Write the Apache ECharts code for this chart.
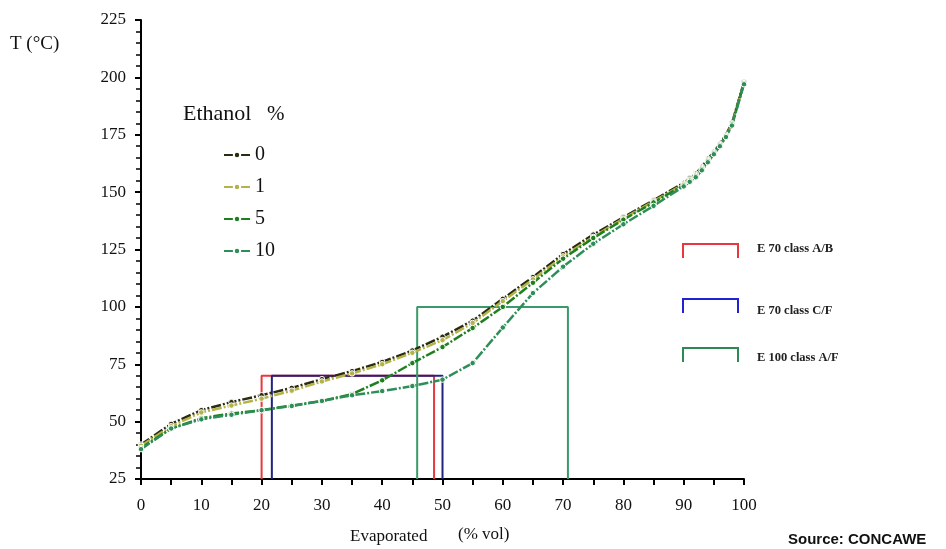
<!DOCTYPE html>
<html><head><meta charset="utf-8">
<script src="https://cdn.jsdelivr.net/npm/echarts@6/dist/echarts.min.js"></script>
<style>html,body{margin:0;padding:0;background:#fff}#c{width:946px;height:549px}</style>
</head><body><div id="c"></div>
<script>
const evaporated = [0,5,10,15,20,25,30,35,40,45,50,55,60,65,70,75,80,85,90,91,92,93,94,95,96,97,98,100];
const seriesNames = ['0','1','5','10'];
const tE0  = [40,49,55,58.5,61.5,64.7,68.5,72,76,81,87,94,103.5,113,123,131.5,139,146.5,154,156,158,161,164.5,167.5,171,175,180,198];
const tE1  = [39.5,48,54,57,60,63.5,67.5,71,75,80,85.5,93,102.5,112,122,130.5,138.5,146,153.5,155.5,157.5,160.5,164,167,170.5,174.5,179.5,197.5];
const tE5  = [38.5,47,51.5,53.5,55,57,59,62,68,75.5,82.5,90.8,100,110.5,121,130,138,145.5,153,155,157,160,163.5,167,170.5,174.5,179.5,197.5];
const tE10 = [38,47,51,53,55,56.8,59,61.5,63.3,65.5,68.3,75.5,91,106,117.5,127.5,136,144,152.5,154.5,156.5,159.5,163,166.5,170,174,179,197];
const specNames = ['E 70 class A/B','E 70 class C/F','E 100 class A/F'];
const specFrom = [20, 21.7, 45.8];
const specTo = [48.6, 50, 70.8];
const specTemp = [70, 70, 100];
const yTicks = [25,50,75,100,125,150,175,200,225];
const xTicks = [0,10,20,30,40,50,60,70,80,90,100];

const serif = '"Liberation Serif", "DejaVu Serif", serif';
const seriesColors = ['#2b2b12','#b3b34a','#1f7f1f','#2e8e58'];
const specColors = ['#e8383d','#22227f','#3a9a6a'];
const specIconColors = ['#e8383d','#2222d0','#2e8a55'];
const allT = [tE0,tE1,tE5,tE10];

const chart = echarts.init(document.getElementById('c'), null, {renderer:'canvas'});
const series = [];
seriesNames.forEach((n,i)=>{
  series.push({
    name:n, type:'line', data: evaporated.map((x,k)=>[x, allT[i][k]]),
    symbol:'circle', symbolSize: 5.5, showSymbol:true,
    lineStyle:{color:seriesColors[i], width:2.5, type:[10,2,2,2]},
    itemStyle:{color:seriesColors[i], borderColor:'#ffffff', borderWidth:1},
    z: 3, animation:false
  });
});
specNames.forEach((n,i)=>{
  series.push({
    name:n, type:'line',
    data:[[specFrom[i],25],[specFrom[i],specTemp[i]],[specTo[i],specTemp[i]],[specTo[i],25]],
    symbol:'none', lineStyle:{color:specColors[i], width:2}, z:2, animation:false
  });
});

const graphics = [
  {type:'text', left:10, top:35, style:{text:'T (°C)', font:'19px '+serif, fill:'#111'}},
  {type:'text', left:183, top:103, style:{text:'Ethanol', font:'22px '+serif, fill:'#111'}},
  {type:'text', left:267, top:104, style:{text:'%', font:'21px '+serif, fill:'#111'}},
  {type:'text', left:350, top:528, style:{text:'Evaporated', font:'17px '+serif, fill:'#111'}},
  {type:'text', left:458, top:526, style:{text:'(% vol)', font:'17px '+serif, fill:'#111'}},
  {type:'text', left:788, top:532, style:{text:'Source: CONCAWE', font:'bold 15px "Liberation Sans", Arial, sans-serif', fill:'#111'}}
];
const iconTops = [244, 299, 348];
const textMid = [249, 311, 358];
specNames.forEach((n,i)=>{
  graphics.push({type:'polyline', shape:{points:[[683,iconTops[i]+14],[683,iconTops[i]],[738,iconTops[i]],[738,iconTops[i]+14]]},
    style:{stroke:specIconColors[i], lineWidth:2, fill:null}});
  graphics.push({type:'text', left:757, top:textMid[i]-7, style:{text:n, font:'bold 12.5px '+serif, fill:'#222'}});
});

chart.setOption({
  backgroundColor:'#fff',
  animation:false,
  grid:{left:141, right:202, top:20, bottom:70, containLabel:false},
  legend:{
    data:seriesNames, orient:'vertical', left:218, top:140,
    itemWidth:26, itemHeight:8, itemGap:12,
    textStyle:{fontFamily:serif, fontSize:20, color:'#111', lineHeight:19}
  },
  xAxis:{
    type:'value', min:xTicks[0], max:xTicks[xTicks.length-1], interval:10,
    axisLine:{show:true, onZero:false, lineStyle:{color:'#000', width:2}},
    axisTick:{show:true, length:6, lineStyle:{color:'#000', width:2}},
    minorTick:{show:true, splitNumber:2, length:6, lineStyle:{color:'#000', width:2}},
    splitLine:{show:false},
    axisLabel:{margin:18, fontFamily:serif, fontSize:17, color:'#111'}
  },
  yAxis:{
    type:'value', min:yTicks[0], max:yTicks[yTicks.length-1], interval:25,
    axisLine:{show:true, onZero:false, lineStyle:{color:'#000', width:2}},
    axisTick:{show:true, length:6, lineStyle:{color:'#000', width:2}},
    minorTick:{show:true, splitNumber:5, length:5, lineStyle:{color:'#000', width:1.5}},
    splitLine:{show:false},
    axisLabel:{margin:15, fontFamily:serif, fontSize:17, color:'#111'}
  },
  series:series,
  graphic:graphics
});
</script></body></html>
